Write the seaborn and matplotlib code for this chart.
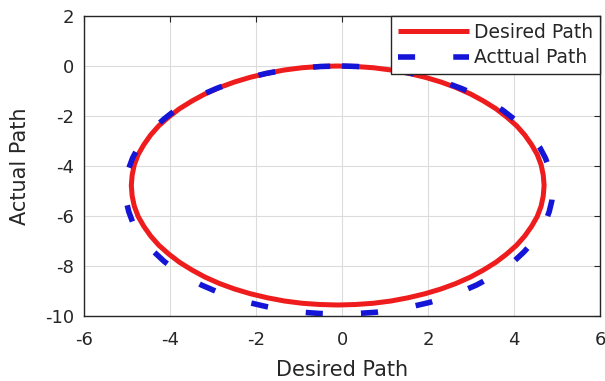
import matplotlib
matplotlib.use("Agg")
import matplotlib.pyplot as plt
import seaborn as sns

# Reference (desired) trajectory, sampled every 5 degrees around the loop
desired_x = [-0.10, 0.32, 0.73, 1.14, 1.54, 1.93, 2.30, 2.65, 2.99, 3.29,
             3.58, 3.83, 4.06, 4.25, 4.41, 4.54, 4.63, 4.68, 4.70,
             4.68, 4.63, 4.54, 4.41, 4.25, 4.06, 3.83, 3.58, 3.29,
             2.99, 2.65, 2.30, 1.93, 1.54, 1.14, 0.73, 0.32, -0.10,
             -0.52, -0.93, -1.34, -1.74, -2.13, -2.50, -2.85, -3.19, -3.49,
             -3.78, -4.03, -4.26, -4.45, -4.61, -4.74, -4.83, -4.88, -4.90,
             -4.88, -4.83, -4.74, -4.61, -4.45, -4.26, -4.03, -3.78, -3.49,
             -3.19, -2.85, -2.50, -2.13, -1.74, -1.34, -0.93, -0.52, -0.10]
desired_y = [0.00, -0.02, -0.07, -0.16, -0.29, -0.45, -0.64, -0.86, -1.12, -1.40,
             -1.71, -2.04, -2.39, -2.76, -3.15, -3.54, -3.95, -4.36, -4.78,
             -5.20, -5.61, -6.02, -6.41, -6.80, -7.17, -7.52, -7.85, -8.16,
             -8.44, -8.70, -8.92, -9.11, -9.27, -9.40, -9.49, -9.54, -9.56,
             -9.54, -9.49, -9.40, -9.27, -9.11, -8.92, -8.70, -8.44, -8.16,
             -7.85, -7.52, -7.17, -6.80, -6.41, -6.02, -5.61, -5.20, -4.78,
             -4.36, -3.95, -3.54, -3.15, -2.76, -2.39, -2.04, -1.71, -1.40,
             -1.12, -0.86, -0.64, -0.45, -0.29, -0.16, -0.07, -0.02, 0.00]

# Tracked (actual) trajectory
actual_x = [0.00, 0.36, 0.79, 1.22, 1.63, 2.03, 2.42, 2.78, 3.13, 3.44,
            3.74, 4.00, 4.23, 4.43, 4.60, 4.73, 4.82, 4.88, 4.90,
            4.88, 4.82, 4.73, 4.60, 4.43, 4.23, 4.00, 3.74, 3.44,
            3.13, 2.78, 2.42, 2.03, 1.63, 1.22, 0.79, 0.36, -0.07,
            -0.50, -0.93, -1.36, -1.77, -2.17, -2.56, -2.92, -3.27, -3.58,
            -3.88, -4.14, -4.37, -4.57, -4.74, -4.87, -4.96, -5.02, -5.04,
            -5.02, -4.96, -4.87, -4.74, -4.57, -4.37, -4.14, -3.88, -3.58,
            -3.27, -2.92, -2.56, -2.17, -1.77, -1.36, -0.93, -0.50, -0.07]
actual_y = [0.00, -0.02, -0.08, -0.17, -0.30, -0.47, -0.67, -0.90, -1.16, -1.45,
            -1.77, -2.12, -2.48, -2.86, -3.26, -3.68, -4.10, -4.53, -4.96,
            -5.39, -5.82, -6.24, -6.66, -7.06, -7.44, -7.81, -8.15, -8.47,
            -8.76, -9.02, -9.26, -9.46, -9.62, -9.75, -9.85, -9.90, -9.92,
            -9.90, -9.85, -9.75, -9.62, -9.46, -9.26, -9.02, -8.76, -8.47,
            -8.15, -7.81, -7.44, -7.06, -6.66, -6.24, -5.82, -5.39, -4.96,
            -4.53, -4.10, -3.68, -3.26, -2.86, -2.48, -2.12, -1.77, -1.45,
            -1.16, -0.90, -0.67, -0.47, -0.30, -0.17, -0.08, -0.02, 0.00]

x_ticks = [-6, -4, -2, 0, 2, 4, 6]
y_ticks = [-10, -8, -6, -4, -2, 0, 2]
series_labels = ["Desired Path", "Acttual Path"]

sns.set_theme(style="whitegrid")
plt.rcParams["font.family"] = ["DejaVu Sans"]
plt.rcParams["axes.unicode_minus"] = False

ink = "#262626"
dash_pattern = (3.08, 6.87)  # in multiples of the line width

fig = plt.figure(figsize=(6.05, 3.81), dpi=100)
ax = fig.add_axes([84 / 605, 1 - 316 / 381, 516 / 605, 300 / 381])

sns.lineplot(x=desired_x, y=desired_y, sort=False, estimator=None,
             color="#ee1c1c", linewidth=3.6, label=series_labels[0],
             solid_capstyle="butt", ax=ax)
sns.lineplot(x=actual_x, y=actual_y, sort=False, estimator=None,
             color="#1515d8", linewidth=4.0, label=series_labels[1],
             linestyle=(0, dash_pattern), dash_capstyle="butt", ax=ax)

ax.set_xlim(x_ticks[0], x_ticks[-1])
ax.set_ylim(y_ticks[0], y_ticks[-1])
ax.set_xticks(x_ticks)
ax.set_yticks(y_ticks)
ax.set_facecolor("white")
ax.grid(True, color="#dcdcdc", linewidth=0.8)

for side in ["left", "right", "top", "bottom"]:
    ax.spines[side].set_visible(True)
    ax.spines[side].set_color(ink)
    ax.spines[side].set_linewidth(1.0)

ax.tick_params(axis="both", direction="in", length=4, width=0.8,
               top=True, right=True, colors=ink, labelsize=13)
ax.tick_params(axis="x", pad=11)
ax.tick_params(axis="y", pad=7)

ax.set_xlabel("Desired Path", fontsize=15, color=ink, labelpad=8)
ax.set_ylabel("Actual Path", fontsize=15, color=ink, labelpad=11)

leg = ax.legend(loc="upper right", borderaxespad=0, frameon=True,
                fancybox=False, framealpha=1, edgecolor=ink,
                fontsize=13.5, handlelength=3.8, handletextpad=0.27,
                borderpad=0.35, labelspacing=0.35)
leg.get_frame().set_linewidth(1.0)
for t in leg.get_texts():
    t.set_color(ink)
leg_line = leg.get_lines()[1]
leg_line.set_linestyle((0, dash_pattern))
leg_line.set_dash_capstyle("butt")

fig.savefig("out.png", dpi=100, facecolor="white")
